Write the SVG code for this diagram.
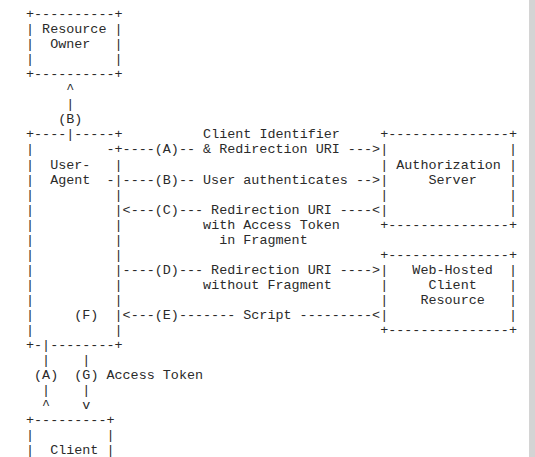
<svg xmlns="http://www.w3.org/2000/svg" width="535" height="457" viewBox="0 0 535 457">
<style>
text{font-family:"Liberation Mono","Courier New",monospace;font-size:13.42px;fill:#2a2a2a;white-space:pre}
</style>
<rect width="535" height="457" fill="#ffffff"/>
<rect x="529" y="0" width="6" height="457" fill="#d4d4d4"/>
<g id="resource-owner">
<text x="26" y="18" xml:space="preserve">+----------+</text>
<text x="26" y="33.05" xml:space="preserve">| Resource |</text>
<text x="26" y="48.1" xml:space="preserve">|  Owner   |</text>
<text x="26" y="63.15" xml:space="preserve">|          |</text>
<text x="26" y="78.2" xml:space="preserve">+----------+</text>
</g>
<g id="user-agent">
<text x="26" y="138.4" xml:space="preserve">+----|-----+</text>
<text x="26" y="153.45" xml:space="preserve">|         -+</text>
<text x="26" y="168.5" xml:space="preserve">|  User-   |</text>
<text x="26" y="183.55" xml:space="preserve">|  Agent  -|</text>
<text x="26" y="198.6" xml:space="preserve">|          |</text>
<text x="26" y="213.65" xml:space="preserve">|          |</text>
<text x="26" y="228.7" xml:space="preserve">|          |</text>
<text x="26" y="243.75" xml:space="preserve">|          |</text>
<text x="26" y="258.8" xml:space="preserve">|          |</text>
<text x="26" y="273.85" xml:space="preserve">|          |</text>
<text x="26" y="288.9" xml:space="preserve">|          |</text>
<text x="26" y="303.95" xml:space="preserve">|          |</text>
<text x="26" y="319" xml:space="preserve">|     (F)  |</text>
<text x="26" y="334.05" xml:space="preserve">|          |</text>
<text x="26" y="349.1" xml:space="preserve">+-|--------+</text>
</g>
<g id="authorization-server">
<text x="380.2" y="138.4" xml:space="preserve">+---------------+</text>
<text x="380.2" y="153.45" xml:space="preserve">|               |</text>
<text x="380.2" y="168.5" xml:space="preserve">| Authorization |</text>
<text x="380.2" y="183.55" xml:space="preserve">|     Server    |</text>
<text x="380.2" y="198.6" xml:space="preserve">|               |</text>
<text x="380.2" y="213.65" xml:space="preserve">|               |</text>
<text x="380.2" y="228.7" xml:space="preserve">+---------------+</text>
</g>
<g id="web-hosted-client-resource">
<text x="380.2" y="258.8" xml:space="preserve">+---------------+</text>
<text x="380.2" y="273.85" xml:space="preserve">|   Web-Hosted  |</text>
<text x="380.2" y="288.9" xml:space="preserve">|     Client    |</text>
<text x="380.2" y="303.95" xml:space="preserve">|    Resource   |</text>
<text x="380.2" y="319" xml:space="preserve">|               |</text>
<text x="380.2" y="334.05" xml:space="preserve">+---------------+</text>
</g>
<g id="client">
<text x="26" y="424.35" xml:space="preserve">+---------+</text>
<text x="26" y="439.4" xml:space="preserve">|         |</text>
<text x="26" y="454.45" xml:space="preserve">|  Client |</text>
</g>
<g id="connectors">
<text x="66.25" y="93.25">^</text>
<text x="66.25" y="108.3">|</text>
<text x="58.2" y="123.35">(B)</text>
<text x="203.1" y="138.4">Client Identifier</text>
<text x="122.6" y="153.45" xml:space="preserve">----(A)-- &amp; Redirection URI ---&gt;</text>
<text x="122.6" y="183.55" xml:space="preserve">----(B)-- User authenticates --&gt;</text>
<text x="122.6" y="213.65" xml:space="preserve">&lt;---(C)--- Redirection URI ----&lt;</text>
<text x="203.1" y="228.7">with Access Token</text>
<text x="219.2" y="243.75">in Fragment</text>
<text x="122.6" y="273.85" xml:space="preserve">----(D)--- Redirection URI ----&gt;</text>
<text x="203.1" y="288.9">without Fragment</text>
<text x="122.6" y="319" xml:space="preserve">&lt;---(E)------- Script ---------&lt;</text>
<text x="42.1" y="364.15">|</text>
<text x="82.35" y="364.15">|</text>
<text x="34.05" y="379.2">(A)</text>
<text x="74.3" y="379.2">(G) Access Token</text>
<text x="42.1" y="394.25">|</text>
<text x="82.35" y="394.25">|</text>
<text x="42.1" y="409.3">^</text>
<text x="82.35" y="409.3">v</text>
</g>
</svg>
